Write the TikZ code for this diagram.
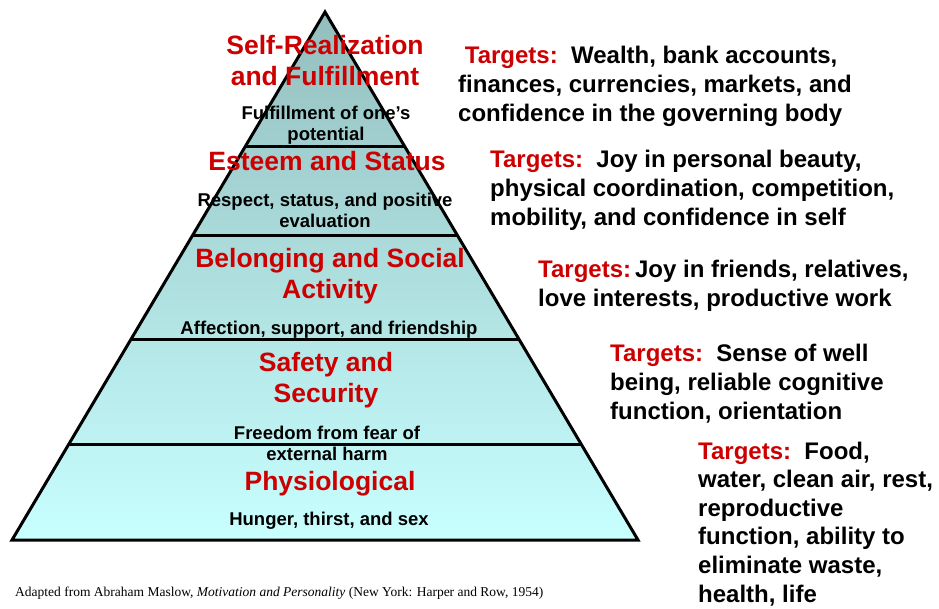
\documentclass[tikz,border=0pt]{standalone}
\usepackage{fontspec}
\setmainfont{Liberation Sans}
\newfontfamily\notefont{Liberation Serif}
\usetikzlibrary{calc}
\definecolor{tierred}{RGB}{204,0,0}
\definecolor{toptier}{RGB}{148,190,190}
\definecolor{basetier}{RGB}{200,255,255}
\begin{document}
\begin{tikzpicture}[x=1pt, y=-1pt,
  head/.style={text=tierred, font=\bfseries\fontsize{26.5}{31}\selectfont, align=center, inner sep=0pt, anchor=base},
  sub/.style={font=\bfseries\fontsize{18.5}{21}\selectfont, align=center, inner sep=0pt, anchor=base},
  targets/.style={font=\bfseries\fontsize{24}{28.6}\selectfont, align=left, inner sep=0pt, anchor=base west}]
\useasboundingbox (0,0) rectangle (939,608);
\coordinate (apex) at (325,12);
\coordinate (bl) at (12,540);
\coordinate (br) at (638,540);
\shade[top color=toptier, bottom color=basetier] (apex)--(bl)--(br)--cycle;
% tier borders
\foreach \t in {0.2538,0.4242,0.6212,0.8182}
  \draw[line width=3pt] ($(apex)!\t!(bl)$)--($(apex)!\t!(br)$);
\draw[line width=3pt, line join=miter] (apex)--(bl)--(br)--cycle;
% nodes sit on the baseline of their last line
\node[head] (selfreal) at (325,85) {Self-Realization\\and Fulfillment};
\node[sub] (selfsub) at (326,140) {Fulfillment of one’s\\potential};
\node[head] (esteem) at (327,170) {Esteem and Status};
\node[sub] (esteemsub) at (325,227) {Respect, status, and positive\\evaluation};
\node[head] (belong) at (330,298) {Belonging and Social\\Activity};
\node[sub] (belongsub) at (329,334) {Affection, support, and friendship};
\node[head] (safety) at (326,402) {Safety and\\Security};
\node[sub] (safetysub) at (327,460) {Freedom from fear of\\external harm};
\node[head] (physio) at (330,490) {Physiological};
\node[sub] (physiosub) at (329,525) {Hunger, thirst, and sex};
\node[targets] (tgself) at (458,121) {\ \textcolor{tierred}{Targets:}\ \ Wealth, bank accounts,\\finances, currencies, markets, and\\confidence in the governing body};
\node[targets] (tgesteem) at (490,225) {\textcolor{tierred}{Targets:}\ \ Joy in personal beauty,\\physical coordination, competition,\\mobility, and confidence in self};
\node[targets] (tgbelong) at (538,306) {\textcolor{tierred}{Targets:}\,Joy in friends, relatives,\\love interests, productive work};
\node[targets] (tgsafety) at (610,419) {\textcolor{tierred}{Targets:}\ \ Sense of well\\being, reliable cognitive\\function, orientation};
\node[targets] (tgphysio) at (698,602) {\textcolor{tierred}{Targets:}\ \ Food,\\water, clean air, rest,\\reproductive\\function, ability to\\eliminate waste,\\health, life};
\node[inner sep=0pt, anchor=base west, font=\notefont\fontsize{13.5}{16}\selectfont] (source) at (15,596) {Adapted from Abraham Maslow, \textit{Motivation and Personality} (New York: Harper and Row, 1954)};
\end{tikzpicture}
\end{document}
